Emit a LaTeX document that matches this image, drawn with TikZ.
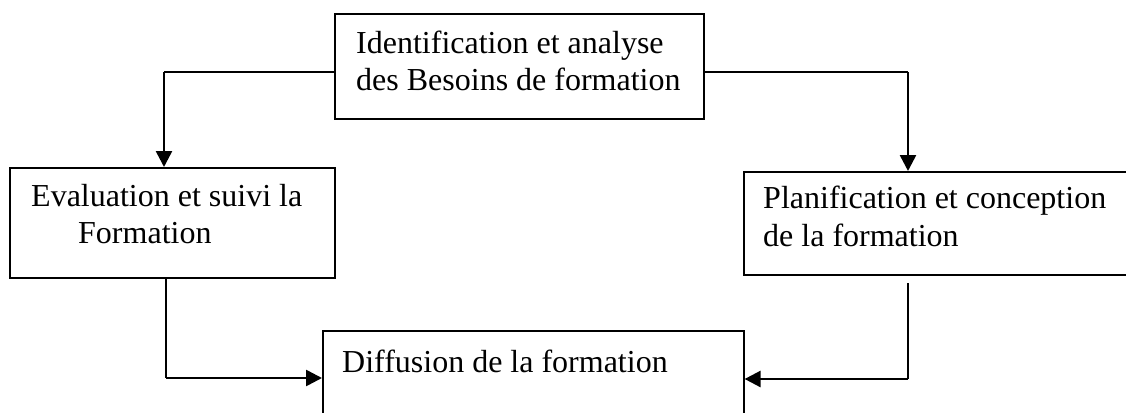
\documentclass[tikz,border=0pt]{standalone}
\usepackage{fontspec}
\setmainfont{Liberation Serif}
\usetikzlibrary{arrows.meta}
\begin{document}
\begin{tikzpicture}[x=1pt,y=-1pt,
  box/.style={draw=black,line width=1.6pt,rectangle,inner sep=0pt,anchor=north west},
  txt/.style={anchor=base west,inner sep=0pt,font=\fontsize{32}{37}\selectfont},
  thin/.style={draw=black,line width=1.3pt},
  thick/.style={draw=black,line width=2.6pt,-{Triangle[length=16pt,width=16pt]}}]
\useasboundingbox (0,0) rectangle (1126,412);
\clip (0,0) rectangle (1126,412);
\fill[white] (0,0) rectangle (1126,412);
% boxes
\node[box,minimum width=369pt,minimum height=105pt] (top) at (334,13) {};
\node[box,minimum width=325pt,minimum height=110pt] (left) at (9,167) {};
\node[box,minimum width=385pt,minimum height=103pt] (right) at (743,171) {};
\node[box,minimum width=421pt,minimum height=110pt] (bottom) at (322,330) {};
% texts
\node[txt] (t1) at (356,53) {Identification et analyse};
\node[txt] (t2) at (356,90) {des Besoins de formation};
\node[txt] (l1) at (31,206) {Evaluation et suivi la};
\node[txt] (l2) at (78,243) {Formation};
\node[txt] (r1) at (763,208) {Planification et conception};
\node[txt] (r2) at (763,246) {de la formation};
\node[txt] (b1) at (342,372) {Diffusion de la formation};
% connector corners
\coordinate (c1) at (164,72);
\coordinate (c2) at (908,72);
\coordinate (c3) at (166,378);
\coordinate (s4) at (908,283);
\coordinate (c4) at (908,379);
% connectors
\draw[thin] (top.west |- c1) -- (c1);
\draw[thick] (c1) -- (c1 |- left.north);
\draw[thin] (top.east |- c2) -- (c2);
\draw[thick] (c2) -- (c2 |- right.north);
\draw[thin] (c3 |- left.south) -- (c3);
\draw[thick] (c3) -- (bottom.west |- c3);
\draw[thin] (s4) -- (c4);
\draw[thick] (c4) -- (bottom.east |- c4);
\end{tikzpicture}
\end{document}
